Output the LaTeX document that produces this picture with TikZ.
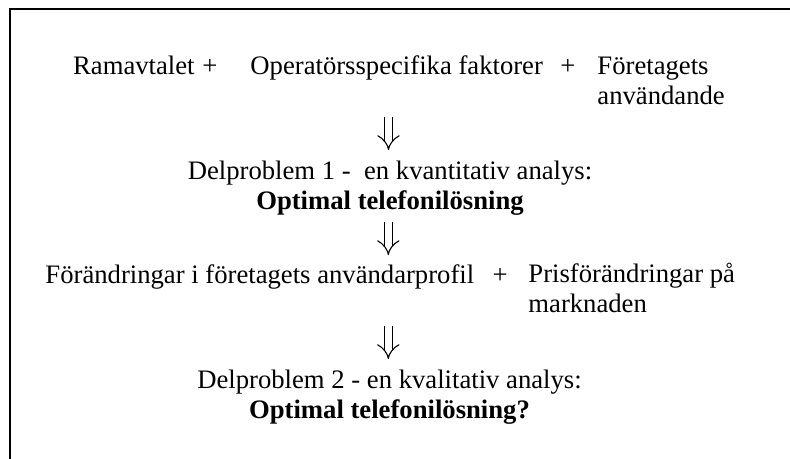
\documentclass[tikz,border=0pt]{standalone}
\usepackage{fontspec}
\setmainfont{Liberation Serif}
\usetikzlibrary{arrows.meta,positioning}

\begin{document}
\begin{tikzpicture}[
  txt/.style={inner sep=0pt, font=\fontsize{12}{13.5}\selectfont},
  frame/.style={draw, line width=0.9pt},
  darrow/.style={double, double distance=3.1pt, line width=0.5pt,
    -{Implies[length=5pt, width=8pt]}}
]
\useasboundingbox (0,0) rectangle (12.494,7.259);

% frame, cut at the right and bottom edges
\draw[frame] (0.166,-1) rectangle (13.5,7.109);

% first row (base of a two-line node = its last line)
\node[txt, anchor=base west] (ram) at (1.150,6.073) {Ramavtalet};
\node[txt, anchor=base] (plus1) at (3.321,6.073) {+};
\node[txt, anchor=base west] (ops) at (3.954,6.073) {Operatörsspecifika faktorer};
\node[txt, anchor=base] (plus2) at (8.983,6.073) {+};
\node[txt, anchor=base west, align=left] (ftg) at (9.442,5.599) {%
  Företagets\\
  användande};

% first subproblem
\node[txt, anchor=base, align=center] (dp1) at (6.168,3.938) {%
  Delproblem 1 - \ en kvantitativ analys:\\
  \textbf{Optimal telefonilösning}};

% second row
\node[txt, anchor=base west] (anv) at (0.712,2.783) {Förändringar i företagets användarprofil};
\node[txt, anchor=base] (plus3) at (7.908,2.783) {+};
\node[txt, anchor=base west, align=left] (pris) at (8.350,2.309) {%
  Prisförändringar på\\
  marknaden};

% second subproblem
\node[txt, anchor=base, align=center] (dp2) at (6.160,0.648) {%
  Delproblem 2 - en kvalitativ analys:\\
  \textbf{Optimal telefonilösning?}};

% arrows
\coordinate (a1s) at (6.144,5.409);
\coordinate (a1e) at (6.144,4.887);
\coordinate (a2s) at (6.141,3.748);
\coordinate (a2e) at (6.141,3.226);
\coordinate (a3s) at (6.141,2.103);
\coordinate (a3e) at (6.141,1.582);

\draw[darrow] (a1s) -- (a1e);
\draw[darrow] (a2s) -- (a2e);
\draw[darrow] (a3s) -- (a3e);

\end{tikzpicture}
\end{document}
